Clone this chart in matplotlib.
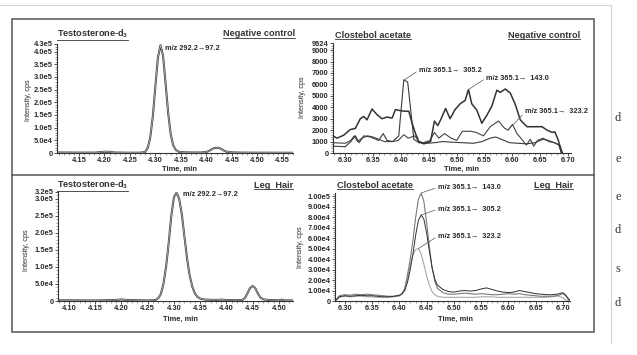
import matplotlib
matplotlib.use("Agg")
import matplotlib.pyplot as plt
from matplotlib.lines import Line2D
from matplotlib.patches import Rectangle
from matplotlib.ticker import MultipleLocator

W, H = 637, 355
plt.rcParams['font.family'] = ['Liberation Sans', 'DejaVu Sans']
plt.rcParams['mathtext.default'] = 'regular'

# ---- values ----
# top left: testosterone-d3, negative control (m/z 292.2 -> 97.2)
tl_time = [4.107, 4.13, 4.15, 4.18, 4.19, 4.20, 4.21, 4.22, 4.25, 4.27, 4.28, 4.285, 4.29, 4.295,
           4.30, 4.305, 4.31, 4.315, 4.32, 4.325, 4.33, 4.335, 4.34, 4.345, 4.35, 4.36, 4.38, 4.39,
           4.40, 4.405, 4.41, 4.415, 4.42, 4.425, 4.43, 4.435, 4.44, 4.45, 4.47, 4.50, 4.53, 4.57]
tl_int = [2000, 1800, 1500, 1500, 3000, 5000, 4500, 2000, 1000, 1200, 4000, 20000, 62000, 144000,
          263000, 377000, 425000, 385000, 275000, 160000, 75000, 30000, 12000, 6000, 3500, 2500, 2000, 2000,
          4000, 8000, 14000, 19000, 21000, 20000, 15000, 9000, 5000, 2500, 1500, 1200, 1000, 800]

# top right: clostebol acetate, negative control
tr143_time = [6.278, 6.285, 6.297, 6.309, 6.318, 6.327, 6.333, 6.339, 6.348, 6.357, 6.366, 6.375, 6.384,
              6.390, 6.399, 6.408, 6.414, 6.420, 6.426, 6.432, 6.441, 6.453, 6.460, 6.466, 6.472, 6.480,
              6.488, 6.497, 6.506, 6.515, 6.521, 6.527, 6.536, 6.545, 6.554, 6.563, 6.572, 6.578, 6.587,
              6.596, 6.605, 6.614, 6.626, 6.644, 6.653, 6.662, 6.671, 6.676, 6.682, 6.688]
tr143_int = [1500, 1300, 1550, 2050, 2150, 3000, 3200, 2900, 3850, 3350, 3000, 3150, 3050,
             3800, 3700, 3650, 3650, 2600, 1700, 1000, 800, 1000, 2800, 2400, 3000, 3900,
             3000, 3800, 4300, 4600, 5550, 4300, 3750, 2600, 3300, 4100, 5500, 5300, 5600,
             5250, 4250, 2900, 2300, 2300, 2300, 2000, 1800, 1850, 1150, 0]
tr305_time = [6.278, 6.300, 6.310, 6.318, 6.325, 6.333, 6.345, 6.360, 6.368, 6.375, 6.385, 6.396,
              6.405, 6.412, 6.418, 6.423, 6.432, 6.445, 6.460, 6.475, 6.490, 6.510, 6.530, 6.545,
              6.560, 6.570, 6.580, 6.595, 6.610, 6.625, 6.640, 6.655, 6.665, 6.675, 6.685, 6.690]
tr305_int = [600, 550, 1000, 1500, 900, 1500, 1400, 1100, 1700, 1100, 1000, 1500,
             6400, 6200, 3500, 1200, 900, 850, 900, 1000, 950, 900, 850, 1000,
             1300, 1400, 1200, 900, 850, 800, 900, 1200, 1100, 900, 700, 0]
tr323_time = [6.278, 6.300, 6.310, 6.316, 6.322, 6.330, 6.340, 6.350, 6.360, 6.370, 6.385, 6.395,
              6.405, 6.413, 6.425, 6.432, 6.440, 6.452, 6.460, 6.468, 6.478, 6.490, 6.500, 6.510,
              6.525, 6.535, 6.548, 6.560, 6.575, 6.585, 6.592, 6.600, 6.608, 6.615, 6.625, 6.632,
              6.638, 6.645, 6.655, 6.665, 6.675, 6.683, 6.688]
tr323_int = [900, 850, 1100, 1500, 1000, 1300, 1500, 1400, 1200, 1000, 1000, 1100,
             1600, 1300, 1500, 1000, 900, 1100, 1800, 1300, 1700, 1300, 1100, 1900,
             1900, 1800, 1500, 2300, 2800, 2200, 2000, 2500, 1700, 1300, 700, 1200,
             600, 1100, 1300, 1000, 900, 700, 0]

# bottom left: testosterone-d3, leg hair
bl_time = [4.079, 4.10, 4.15, 4.19, 4.20, 4.21, 4.25, 4.265, 4.27, 4.275, 4.28, 4.285, 4.29, 4.295,
           4.30, 4.305, 4.31, 4.315, 4.32, 4.325, 4.33, 4.335, 4.34, 4.345, 4.35, 4.36, 4.38, 4.39,
           4.40, 4.42, 4.43, 4.435, 4.44, 4.445, 4.45, 4.455, 4.46, 4.465, 4.47, 4.48, 4.50, 4.505,
           4.51, 4.527]
bl_int = [2000, 2000, 1500, 3000, 4500, 3000, 1500, 3000, 8000, 20000, 50000, 100000, 170000, 250000,
          305000, 318000, 300000, 255000, 190000, 125000, 75000, 42000, 22000, 12000, 7000, 4000, 3000, 4000,
          3000, 2500, 3000, 8000, 22000, 38000, 44000, 38000, 22000, 10000, 5000, 3000, 2000, 4000,
          2000, 1500]

# bottom right: clostebol acetate, leg hair
br_time = [6.282, 6.285, 6.29, 6.30, 6.31, 6.32, 6.33, 6.34, 6.35, 6.36, 6.37, 6.38, 6.39, 6.40,
           6.405, 6.41, 6.415, 6.42, 6.425, 6.43, 6.435, 6.44, 6.445, 6.45, 6.455, 6.46, 6.465, 6.47, 6.48,
           6.49, 6.50, 6.51, 6.52, 6.53, 6.54, 6.55, 6.56, 6.57, 6.58, 6.59, 6.60, 6.61, 6.62, 6.63,
           6.64, 6.65, 6.66, 6.67, 6.68, 6.69, 6.70, 6.705, 6.71, 6.713]
br_143 = [0, 2000, 5000, 6000, 5500, 6500, 6000, 6500, 6000, 5500, 5000, 4500, 4500, 5000,
          7000, 12000, 25000, 40000, 58000, 80000, 97000, 103000, 95000, 75000, 52000, 32000, 19000, 12000, 8000,
          6500, 6500, 7000, 7500, 7000, 6500, 7000, 6500, 6000, 6000, 6500, 7000, 6500, 7000, 6000,
          5500, 5000, 4500, 4500, 4500, 5000, 7000, 6000, 2000, 0]
br_305 = [0, 1500, 4000, 5000, 4500, 5000, 5500, 5000, 5000, 4500, 4000, 4000, 4500, 5500,
          7000, 10000, 18000, 30000, 45000, 63000, 77000, 82000, 78000, 65000, 48000, 32000, 21000, 15000, 11000,
          9000, 8500, 9500, 10000, 9500, 10000, 11500, 12500, 11000, 9500, 8500, 8000, 8500, 10000, 9000,
          8000, 7000, 6500, 6000, 6000, 6500, 8000, 5000, 2000, 1000]
br_323 = [0, 1000, 3500, 4500, 4000, 4500, 4500, 4000, 4000, 3500, 3500, 3500, 4000, 5000,
          7000, 12000, 22000, 34000, 44000, 49000, 50000, 45000, 35000, 24000, 15000, 9000, 6000, 4500, 3500,
          3500, 3500, 3500, 3500, 3500, 3500, 4000, 4000, 4000, 3500, 3500, 3500, 3500, 3500, 3500,
          3500, 3500, 3500, 3500, 4000, 5000, 3000, 1000, 500, 0]

# tick values and labels
tl_yticks = [0, 5e4, 1e5, 1.5e5, 2e5, 2.5e5, 3e5, 3.5e5, 4e5, 4.3e5]
tl_ylabels = ["0", "5.0e4", "1.0e5", "1.5e5", "2.0e5", "2.5e5", "3.0e5", "3.5e5", "4.0e5", "4.3e5"]
tr_yticks = [0, 1000, 2000, 3000, 4000, 5000, 6000, 7000, 8000, 9000, 9624]
tr_ylabels = ["0", "1000", "2000", "3000", "4000", "5000", "6000", "7000", "8000", "9000", "9624"]
bl_yticks = [0, 5e4, 1e5, 1.5e5, 2e5, 2.5e5, 3e5, 3.2e5]
bl_ylabels = ["0", "5.0e4", "1.0e5", "1.5e5", "2.0e5", "2.5e5", "3.0e5", "3.2e5"]
br_yticks = [0, 1e4, 2e4, 3e4, 4e4, 5e4, 6e4, 7e4, 8e4, 9e4, 1e5]
br_ylabels = ["0", "1.00e4", "2.00e4", "3.00e4", "4.00e4", "5.00e4", "6.00e4", "7.00e4",
              "8.00e4", "9.00e4", "1.00e5"]
t_xticks = [4.15, 4.20, 4.25, 4.30, 4.35, 4.40, 4.45, 4.50, 4.55]
b_xticks = [4.10, 4.15, 4.20, 4.25, 4.30, 4.35, 4.40, 4.45, 4.50]
c_xticks = [6.30, 6.35, 6.40, 6.45, 6.50, 6.55, 6.60, 6.65, 6.70]

TXT = "#2a2a2a"
fig = plt.figure(figsize=(W / 100, H / 100), dpi=100)


def fx(x):
    return x / W


def fy(y):
    return 1 - y / H


def make_ax(l, t, r, b, xlim, ylim, xticks, yticks, ylabels, xminor, yminor):
    ax = fig.add_axes([fx(l), fy(b), (r - l) / W, (b - t) / H])
    ax.set_xlim(*xlim)
    ax.set_ylim(*ylim)
    for s in ("top", "right"):
        ax.spines[s].set_visible(False)
    for s in ("left", "bottom"):
        ax.spines[s].set_color("#333")
        ax.spines[s].set_linewidth(0.8)
    ax.set_xticks(xticks)
    ax.set_xticklabels([f"{v:.2f}" for v in xticks])
    ax.set_yticks(yticks)
    ax.set_yticklabels(ylabels)
    ax.xaxis.set_minor_locator(MultipleLocator(xminor))
    ax.yaxis.set_minor_locator(MultipleLocator(yminor))
    ax.tick_params(which="major", length=2, width=0.6, pad=1.2, labelsize=5.4,
                   colors="#333", labelcolor=TXT)
    ax.tick_params(which="minor", length=1.2, width=0.4, colors="#555")
    for lab in ax.get_xticklabels() + ax.get_yticklabels():
        lab.set_fontweight("bold")
    ax.patch.set_alpha(0)
    return ax


def hollow(ax, x, y):
    ax.plot(x, y, color="#4a4a4a", lw=1.5, solid_joinstyle="round")
    ax.plot(x, y, color="white", lw=0.35, alpha=0.8)


ax_tl = make_ax(57, 44, 293, 153, (4.107, 4.57), (0, 4.3e5), t_xticks, tl_yticks, tl_ylabels, 0.01, 1e4)
hollow(ax_tl, tl_time, tl_int)
ax_tl.text(4.3198, 4.13e5, "m/z 292.2\u219297.2", fontsize=5.3, fontweight="bold", color=TXT,
           ha="left", va="center")

ax_tr = make_ax(333, 43, 571, 153, (6.278, 6.705), (0, 9624), c_xticks, tr_yticks, tr_ylabels, 0.01, 200)
ax_tr.plot(tr323_time, tr323_int, color="#444", lw=0.8)
ax_tr.plot(tr305_time, tr305_int, color="#3a3a3a", lw=0.8)
ax_tr.plot(tr143_time, tr143_int, color="#333", lw=1.1)

ax_bl = make_ax(58, 192, 293, 301, (4.079, 4.527), (0, 3.2e5), b_xticks, bl_yticks, bl_ylabels, 0.01, 1e4)
hollow(ax_bl, bl_time, bl_int)
ax_bl.text(4.3173, 3.13e5, "m/z 292.2\u219297.2", fontsize=5.3, fontweight="bold", color=TXT,
           ha="left", va="center")

ax_br = make_ax(335, 193, 570, 301, (6.282, 6.713), (0, 1.03e5), c_xticks, br_yticks, br_ylabels, 0.01, 2000)
ax_br.plot(br_time, br_323, color="#a8a8a8", lw=0.8)
ax_br.plot(br_time, br_143, color="#7a7a7a", lw=0.8)
ax_br.plot(br_time, br_305, color="#303030", lw=0.7)

# leader-line labels for the clostebol transitions
lead = dict(arrowstyle="-", color="#555", lw=0.5, shrinkA=0, shrinkB=0, relpos=(0, 0.5))
lab_kw = dict(fontsize=5.3, fontweight="bold", color=TXT, ha="left", va="center", textcoords="data")
ax_tr.annotate("m/z 365.1\u2192  305.2", xy=(6.406, 6400), xytext=(6.4326, 7260), arrowprops=lead, **lab_kw)
ax_tr.annotate("m/z 365.1\u2192  143.0", xy=(6.521, 5550), xytext=(6.5527, 6560), arrowprops=lead, **lab_kw)
ax_tr.annotate("m/z 365.1\u2192  323.2", xy=(6.592, 2000), xytext=(6.6226, 3590), arrowprops=lead, **lab_kw)
ax_br.annotate("m/z 365.1\u2192  143.0", xy=(6.44, 103000), xytext=(6.4706, 108500), arrowprops=lead,
               annotation_clip=False, **lab_kw)
ax_br.annotate("m/z 365.1\u2192  305.2", xy=(6.44, 82000), xytext=(6.4706, 87600), arrowprops=lead, **lab_kw)
ax_br.annotate("m/z 365.1\u2192  323.2", xy=(6.435, 50000), xytext=(6.4706, 61900), arrowprops=lead, **lab_kw)

# axis titles
for x, y in [(28, 100), (303, 97), (27, 250), (300, 247)]:
    fig.text(fx(x), fy(y), "Intensity, cps", rotation=90, ha="center", va="center", fontsize=5.2, color=TXT)
for x, y in [(180, 169), (462, 169), (181, 319), (456, 319)]:
    fig.text(fx(x), fy(y), "Time, min", ha="center", va="center", fontsize=5.4, fontweight="bold", color=TXT)

# underlined panel headings
headings = [
    (57, 34, "Testosterone-d$_3$", "left"), (295, 34, "Negative control", "right"),
    (335, 35, "Clostebol acetate", "left"), (580, 35, "Negative control", "right"),
    (57, 185, "Testosterone-d$_3$", "left"), (293, 185, "Leg  Hair", "right"),
    (337, 185, "Clostebol acetate", "left"), (573, 185, "Leg  Hair", "right"),
]
head_texts = [fig.text(fx(x), fy(y), s, ha=ha, va="center", fontsize=6.6, fontweight="bold", color="#333")
              for x, y, s, ha in headings]

# figure frame and divider
fig.add_artist(Rectangle((fx(12), fy(332)), 582 / W, 313 / H, fill=False, ec="#555", lw=1.1,
                         transform=fig.transFigure))
fig.add_artist(Line2D([fx(12), fx(594)], [fy(175), fy(175)], color="#555", lw=1.1, transform=fig.transFigure))

# page around the figure
fig.add_artist(Line2D([0, fx(611)], [fy(5), fy(5)], color="#d4d4d4", lw=0.8, transform=fig.transFigure))
fig.add_artist(Line2D([fx(611), fx(611)], [fy(5), fy(343)], color="#d4d4d4", lw=0.8, transform=fig.transFigure))
for y, s in zip([118, 159, 197, 230, 269, 303], ["d", "e", "e", "d", "s", "d"]):
    fig.text(fx(618), fy(y), s, ha="center", va="center", fontsize=9, family="Liberation Serif", color="#333")

fig.canvas.draw()
rend = fig.canvas.get_renderer()
for t in head_texts:
    bb = t.get_window_extent(rend)
    yline = (bb.y0 + 0.3) / H
    fig.add_artist(Line2D([bb.x0 / W, bb.x1 / W], [yline, yline], color="#333", lw=0.6,
                          transform=fig.transFigure))

fig.savefig("out.png", dpi=100)
